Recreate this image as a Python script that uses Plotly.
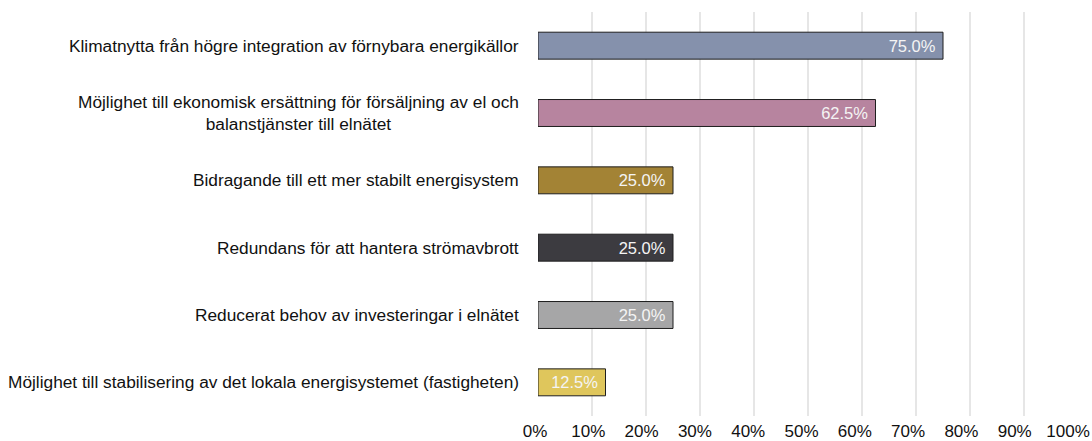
import plotly.graph_objects as go

categories = [
    "Klimatnytta från högre integration av förnybara energikällor",
    "Möjlighet till ekonomisk ersättning för försäljning av el och<br>balanstjänster till elnätet",
    "Bidragande till ett mer stabilt energisystem",
    "Redundans för att hantera strömavbrott",
    "Reducerat behov av investeringar i elnätet",
    "Möjlighet till stabilisering av det lokala energisystemet (fastigheten)",
]
shares = [75.0, 62.5, 25.0, 25.0, 25.0, 12.5]
bar_colors = ["#8591AC", "#B7849F", "#A38335", "#3C3B40", "#A6A6A7", "#DFC65C"]
x_ticks = [0, 10, 20, 30, 40, 50, 60, 70, 80, 90, 100]

FONT = "Arial, Liberation Sans, sans-serif"

fig = go.Figure(
    go.Bar(
        x=shares,
        y=categories,
        orientation="h",
        width=0.4,
        marker=dict(color=bar_colors, line=dict(color="#1E1E1E", width=1)),
        texttemplate="%{x:.1f}%\u00a0",
        textposition="inside",
        insidetextanchor="end",
        textfont=dict(family=FONT, size=16.5, color="#F4F4F4"),
        constraintext="none",
        hoverinfo="skip",
    )
)
# invisible helper trace so the tick-label axis (x2) gets drawn
fig.add_trace(
    go.Scatter(
        x=[x_ticks[0], x_ticks[-1]],
        y=[categories[0], categories[0]],
        xaxis="x2",
        yaxis="y",
        mode="none",
        hoverinfo="skip",
    )
)

# category labels, centred lines, right edge just left of the bars
for cat in categories:
    fig.add_annotation(
        x=0, y=cat, xref="x", yref="y",
        text=cat, showarrow=False,
        xanchor="right", yanchor="middle", align="center",
        xshift=-17,
        font=dict(family=FONT, size=17.3, color="#111111"),
    )

fig.update_layout(
    width=1092,
    height=441,
    margin=dict(l=535, r=14, t=12, b=25),
    paper_bgcolor="white",
    plot_bgcolor="rgba(0,0,0,0)",
    showlegend=False,
    font=dict(family=FONT, size=17, color="#111111"),
    xaxis=dict(
        domain=[3 / 543, 1],
        range=[0, 100],
        tickvals=x_ticks[1:],
        showticklabels=False,
        showgrid=True,
        gridcolor="#E6E6E6",
        gridwidth=2,
        zeroline=False,
        showline=False,
        ticks="",
        automargin=False,
    ),
    xaxis2=dict(
        domain=[0, 533 / 543],
        anchor="y",
        range=[0, 100],
        tickvals=x_ticks,
        ticktext=[f"{t}%" for t in x_ticks],
        showgrid=False,
        zeroline=False,
        showline=False,
        ticks="",
        ticklabelstandoff=3,
        tickfont=dict(family=FONT, size=17, color="#111111"),
        automargin=False,
    ),
    yaxis=dict(
        categoryorder="array",
        categoryarray=categories,
        autorange="reversed",
        showticklabels=False,
        showgrid=False,
        zeroline=False,
        showline=False,
        ticks="",
        automargin=False,
    ),
)

# drop the default page margin so the figure sits exactly in the window
fig.write_html(
    "out.html",
    config={"displayModeBar": False},
    post_script="document.body.style.margin = '0';",
)
